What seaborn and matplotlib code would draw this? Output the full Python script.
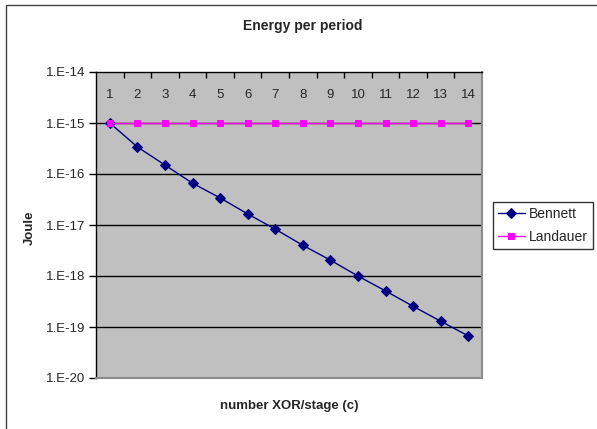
import numpy as np
import pandas as pd
import matplotlib
matplotlib.use("Agg")
import matplotlib.pyplot as plt
import matplotlib.ticker as mticker
import seaborn as sns

# values
stages = list(range(1, 15))
bennett = [1.0e-15, 3.4e-16, 1.5e-16, 6.6e-17, 3.4e-17, 1.65e-17, 8.3e-18,
           4.0e-18, 2.05e-18, 1.0e-18, 5.1e-19, 2.55e-19, 1.3e-19, 6.7e-20]
landauer = [1.0e-15] * 14
decades = [-20, -19, -18, -17, -16, -15, -14]

sns.set_theme(style="white")
plt.rcParams["font.family"] = ["Liberation Sans", "DejaVu Sans"]

df = pd.DataFrame({"c": stages, "Bennett": bennett, "Landauer": landauer})

fig = plt.figure(figsize=(5.97, 4.29), dpi=100)
ax = fig.add_axes([96 / 597, 51 / 429, 386 / 597, 306 / 429])
ax.set_facecolor("#C0C0C0")

sns.lineplot(data=df, x="c", y="Bennett", ax=ax, color="#000080", marker="D",
             markersize=5, markeredgecolor="#000080", linewidth=1, label="Bennett",
             zorder=3)
sns.lineplot(data=df, x="c", y="Landauer", ax=ax, color="#FF00FF", marker="s",
             markersize=5, markeredgecolor="#FF00FF", linewidth=1, label="Landauer",
             zorder=4)

ax.set_yscale("log")
ax.set_ylim(10.0 ** decades[0], 10.0 ** decades[-1])
ax.set_xlim(0.5, 14.5)
ax.yaxis.set_major_locator(mticker.FixedLocator([10.0 ** d for d in decades]))
ax.yaxis.set_minor_locator(mticker.NullLocator())
ax.set_yticklabels([f"1.E{d}" for d in decades])
for d in decades[1:-1]:
    ax.axhline(10.0 ** d, color="black", linewidth=1, zorder=1)

# category axis sits at the top (Excel log axis crossing)
ax.xaxis.tick_top()
ax.set_xticks([s + 0.5 for s in stages[:-1]])
ax.set_xticklabels([])
ax.set_xticks(stages, minor=True)
ax.set_xticklabels([str(s) for s in stages], minor=True)
ax.tick_params(axis="x", which="major", direction="in", length=4, width=1,
               color="black", top=True, bottom=False)
ax.tick_params(axis="x", which="minor", length=0, top=True, bottom=False,
               labeltop=True, pad=-21, labelsize=9.5)
ax.tick_params(axis="y", direction="out", length=5, width=1, color="black",
               left=True, labelsize=9.5, pad=3)

for side in ["left", "top"]:
    ax.spines[side].set_color("black")
    ax.spines[side].set_linewidth(1)
for side in ["right", "bottom"]:
    ax.spines[side].set_color("#8C8C8C")
    ax.spines[side].set_linewidth(1.5)

ax.set_xlabel("")
ax.set_ylabel("")
fig.text(303 / 597, 1 - 26 / 429, "Energy per period", ha="center", va="center",
         fontsize=10, fontweight="bold")
fig.text(289 / 597, 1 - 406 / 429, "number XOR/stage (c)", ha="center", va="center",
         fontsize=9.5, fontweight="bold")
fig.text(30 / 597, 1 - 228 / 429, "Joule", ha="center", va="center",
         rotation=90, fontsize=9.5, fontweight="bold")

ax.get_legend().remove()
handles, labels = ax.get_legend_handles_labels()
leg = fig.legend(handles, labels, loc="upper left",
                 bbox_to_anchor=(493 / 597, 1 - 202 / 429),
                 frameon=True, fancybox=False, fontsize=10, handlelength=1.9,
                 handletextpad=0.3, borderpad=0.38, labelspacing=0.6,
                 borderaxespad=0)
leg.get_frame().set_edgecolor("black")
leg.get_frame().set_linewidth(1)

# outer chart frame (only top and left edges visible in the reference)
fig.add_artist(plt.Rectangle((6 / 597, -0.1), 1.2, 1 - 5 / 429 + 0.1,
                             transform=fig.transFigure, fill=False,
                             edgecolor="#404040", linewidth=1))

fig.savefig("out.png", dpi=100)
